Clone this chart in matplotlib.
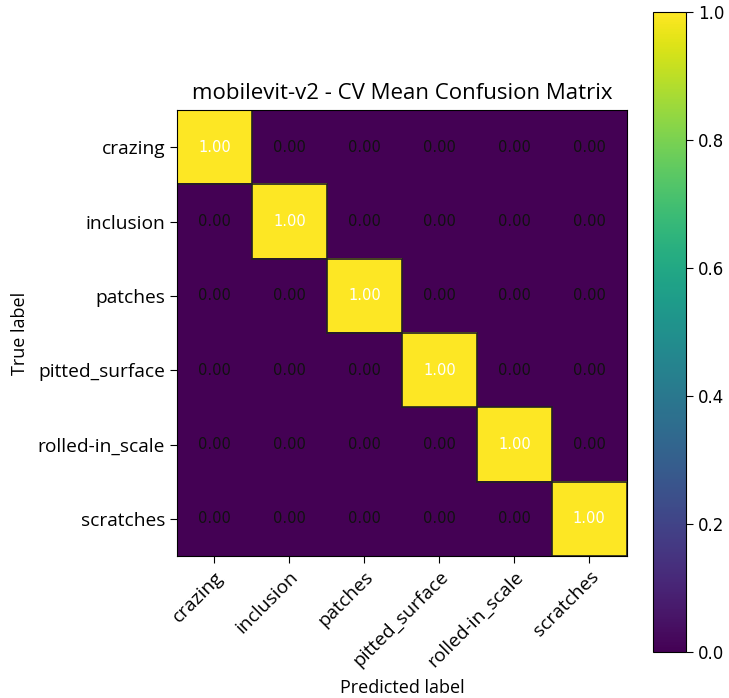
import numpy as np
import matplotlib
matplotlib.use("Agg")
import matplotlib.pyplot as plt

classes = ["crazing", "inclusion", "patches", "pitted_surface", "rolled-in_scale", "scratches"]
cm = np.array([
    [1.00, 0.00, 0.00, 0.00, 0.00, 0.00],
    [0.00, 1.00, 0.00, 0.00, 0.00, 0.00],
    [0.00, 0.00, 1.00, 0.00, 0.00, 0.00],
    [0.00, 0.00, 0.00, 1.00, 0.00, 0.00],
    [0.00, 0.00, 0.00, 0.00, 1.00, 0.00],
    [0.00, 0.00, 0.00, 0.00, 0.00, 1.00],
])
cbar_ticks = [0.0, 0.2, 0.4, 0.6, 0.8, 1.0]

plt.rcParams['font.family'] = ['Open Sans', 'DejaVu Sans']

fig = plt.figure(figsize=(7.29, 6.98), dpi=100)
ax = fig.add_axes([0.2428, 0.2034, 0.617, 0.639])
cax = fig.add_axes([0.8957, 0.0659, 0.0453, 0.917])

im = ax.imshow(cm, cmap='viridis', vmin=0, vmax=1, aspect='auto')

# dark outline round the diagonal cells
for i in range(len(classes)):
    ax.add_patch(plt.Rectangle((i - 0.5, i - 0.5), 1, 1, fill=False, edgecolor='#222222', lw=1.2))

for i in range(len(classes)):
    for j in range(len(classes)):
        v = cm[i, j]
        ax.text(j, i, f"{v:.2f}", ha='center', va='center', fontsize=10.5,
                color='white' if v > 0.5 else '#111111', family='DejaVu Sans')

ax.set_xticks(range(len(classes)))
ax.set_yticks(range(len(classes)))
ax.set_xticklabels(classes, rotation=45, ha='right', rotation_mode='anchor', fontsize=13.8)
ax.set_yticklabels(classes, fontsize=13.8)
ax.tick_params(length=5)
ax.set_xlabel("Predicted label", fontsize=13, labelpad=6)
ax.set_ylabel("True label", fontsize=13, labelpad=6)
ax.set_title("mobilevit-v2 - CV Mean Confusion Matrix", fontsize=16, pad=8)

cb = fig.colorbar(im, cax=cax, ticks=cbar_ticks)
cb.ax.tick_params(labelsize=12, length=5)
for t in cb.ax.get_yticklabels():
    t.set_family('DejaVu Sans')

fig.savefig("out.png", dpi=100)
